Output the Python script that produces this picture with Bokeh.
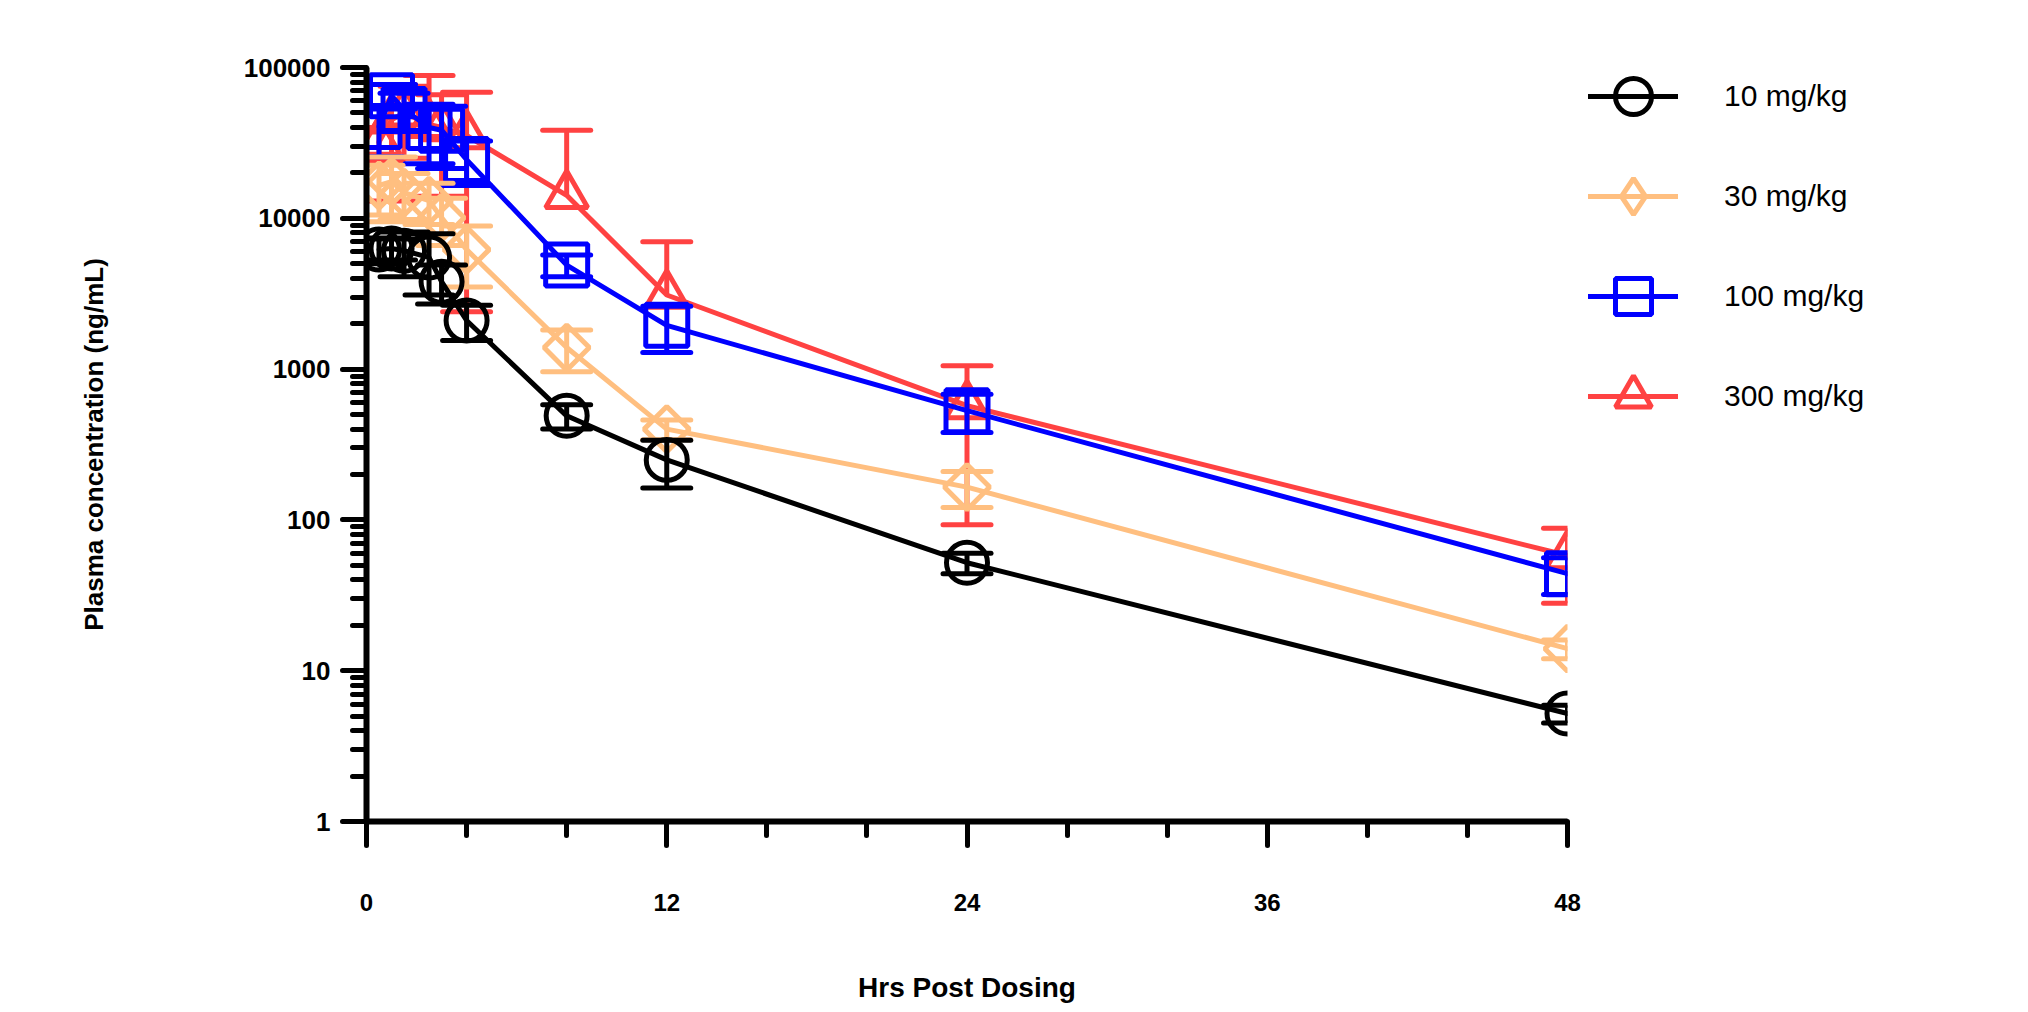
from bokeh.plotting import figure
from bokeh.models import (Range1d, FixedTicker, Legend, LegendItem,
                          ColumnDataSource)
from bokeh.embed import file_html
from bokeh.resources import INLINE

# ---- data ----
hours = [0.5, 1, 1.5, 2.5, 3, 4, 8, 12, 24, 48]

series_names = ["10 mg/kg", "30 mg/kg", "100 mg/kg", "300 mg/kg"]

mean_10 = [6200, 6300, 6100, 5500, 3800, 2100, 490, 250, 52, 5.2]
sd_10 = [1200, 1000, 2000, 2400, 1100, 550, 90, 87, 8, 0.7]

mean_30 = [16500, 17500, 14800, 13100, 10100, 6200, 1390, 400, 165, 14]
sd_30 = [6000, 8000, 5000, 4000, 3500, 2700, 430, 60, 44, 2]

mean_100 = [40600, 65000, 52600, 40000, 38400, 24500, 4900, 1950, 530, 44]
sd_100 = [15000, 12000, 15000, 17000, 17000, 8000, 800, 660, 150, 12]

mean_300 = [32000, 45000, 50000, 42000, 40000, 35400, 14200, 3100, 573, 58]
sd_300 = [8000, 32000, 25000, 46500, 26000, 33000, 24200, 3900, 480, 30]

x_ticks = [0, 12, 24, 36, 48]
x_minor = [4, 8, 16, 20, 28, 32, 40, 44]
y_ticks = [1, 10, 100, 1000, 10000, 100000]
y_tick_labels = ["1", "10", "100", "1000", "10000", "100000"]

x_label = "Hrs Post Dosing"
y_label = "Plasma concentration (ng/mL)"

colors = ["#000000", "#FFBF80", "#0000FF", "#FF4242"]
markers = ["circle", "square", "square", "triangle"]
legend_markers = ["circle", "diamond", "square", "triangle"]
marker_sizes = [41, 32, 42, 42]
marker_angles = [0, 0.785398, 0, 0]

means = [mean_10, mean_30, mean_100, mean_300]
sds = [sd_10, sd_30, sd_100, sd_300]

FONT = "Liberation Sans, Arial, Helvetica, sans-serif"

p = figure(frame_width=1201, frame_height=754,
           x_range=Range1d(0, 48), y_range=Range1d(1, 100000),
           y_axis_type="log", output_backend="svg", toolbar_location=None,
           min_border_left=366, min_border_top=67, min_border_right=440,
           min_border_bottom=175)
# a range that places legend-only symbols outside the frame
p.extra_x_ranges = {"legend_only": Range1d(-1000, -999)}

p.outline_line_color = None
p.xgrid.visible = False
p.ygrid.visible = False
p.background_fill_color = "white"

# axes
p.xaxis.ticker = FixedTicker(ticks=x_ticks, minor_ticks=x_minor)
minor_y = [m * 10 ** d for d in range(5) for m in range(2, 10)]
p.yaxis.ticker = FixedTicker(ticks=y_ticks, minor_ticks=minor_y)
p.yaxis.major_label_overrides = {t: l for t, l in zip(y_ticks, y_tick_labels)}
p.xaxis.major_label_overrides = {t: str(t) for t in x_ticks}

for ax in (p.xaxis, p.yaxis):
    ax.axis_line_width = 6
    ax.axis_line_color = "black"
    ax.major_tick_line_width = 5
    ax.minor_tick_line_width = 5
    ax.major_tick_line_cap = "round"
    ax.minor_tick_line_cap = "round"
    ax.major_tick_in = 0
    ax.minor_tick_in = 0
    ax.major_tick_out = 24
    ax.minor_tick_out = 14
    ax.major_label_text_font = FONT
    ax.major_label_text_font_style = "bold"
    ax.major_label_text_color = "black"
    ax.axis_label_text_font = FONT
    ax.axis_label_text_font_style = "bold"
    ax.axis_label_text_color = "black"

p.xaxis.major_label_text_font_size = "24px"
p.yaxis.major_label_text_font_size = "26px"
p.xaxis.major_label_standoff = 48
p.yaxis.major_label_standoff = 12
p.xaxis.axis_label = x_label
p.yaxis.axis_label = y_label
p.xaxis.axis_label_text_font_size = "28px"
p.yaxis.axis_label_text_font_size = "26px"
p.xaxis.axis_label_standoff = 58
p.yaxis.axis_label_standoff = 132

order = list(range(len(series_names)))
renderers_by_series = {}
for i in reversed(order):
    mean = means[i]
    sd = sds[i]
    color = colors[i]
    upper = [m + s for m, s in zip(mean, sd)]
    lower = [m - s for m, s in zip(mean, sd)]
    src = ColumnDataSource(dict(x=hours, y=mean, up=upper))
    p.segment(x0="x", y0="y", x1="x", y1="up", source=src,
              line_color=color, line_width=5)
    p.scatter(x="x", y="up", source=src, marker="dash", size=48,
              line_color=color, line_width=5, line_cap="round")
    idx = [k for k in range(len(hours)) if lower[k] > 0]
    lsrc = ColumnDataSource(dict(x=[hours[k] for k in idx],
                                 y=[mean[k] for k in idx],
                                 lo=[lower[k] for k in idx]))
    p.segment(x0="x", y0="lo", x1="x", y1="y", source=lsrc,
              line_color=color, line_width=5)
    p.scatter(x="x", y="lo", source=lsrc, marker="dash", size=48,
              line_color=color, line_width=5, line_cap="round")
    ln = p.line(x="x", y="y", source=src, line_color=color, line_width=5,
                line_join="round", line_cap="round")
    pts = p.scatter(x="x", y="y", source=src, marker=markers[i],
                    size=marker_sizes[i], angle=marker_angles[i],
                    fill_color=None, line_color=color, line_width=5)
    if legend_markers[i] != markers[i]:
        # legend-only symbol: mapped to a range that lies outside the frame
        leg_pts = p.scatter(x="x", y="y", source=src, marker=legend_markers[i],
                            size=marker_sizes[i], fill_color=None,
                            line_color=color, line_width=5,
                            x_range_name="legend_only")
        renderers_by_series[i] = [ln, leg_pts]
    else:
        renderers_by_series[i] = [ln, pts]

items = [LegendItem(label=series_names[i], renderers=renderers_by_series[i])
         for i in order]

legend = Legend(items=items, location=(21, 380), orientation="vertical",
                glyph_width=90, glyph_height=90, label_standoff=46,
                spacing=10, padding=0, margin=0,
                border_line_color=None, background_fill_alpha=0,
                label_text_font=FONT, label_text_font_size="30px",
                label_text_color="black", label_height=90)
p.add_layout(legend, "right")

open("out.html", "w").write(file_html(p, INLINE))
